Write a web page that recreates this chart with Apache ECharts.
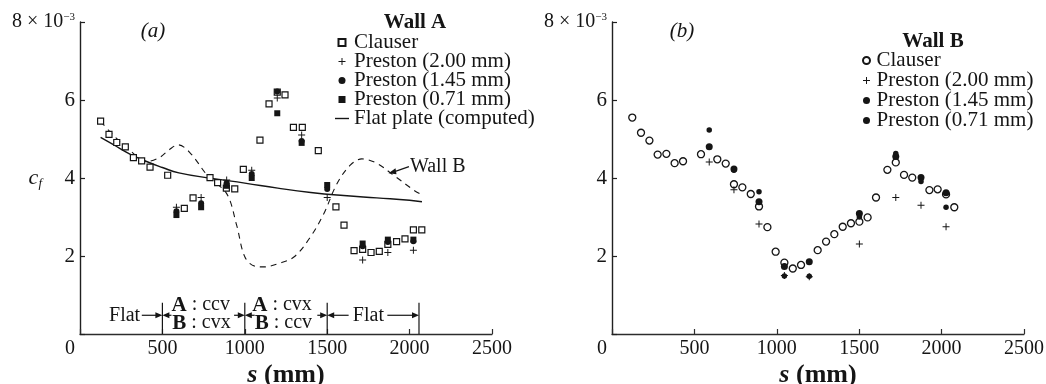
<!DOCTYPE html>
<html>
<head>
<meta charset="utf-8">
<script src="https://cdn.jsdelivr.net/npm/echarts@6/dist/echarts.min.js"></script>
<style>
  html, body { margin: 0; padding: 0; background: #ffffff; }
  #chart { width: 1046px; height: 384px; }
</style>
</head>
<body>
<div id="chart"></div>
<script>
// ---------- Wall A (panel a): skin friction c_f (x 10^-3) against s (mm) ----------
const aClauserS  = [125, 176, 223, 275, 324, 374, 425, 532, 633, 686, 789, 835, 888, 939, 991, 1092, 1147, 1197, 1244, 1295, 1349, 1446, 1553, 1602, 1663, 1715, 1766, 1816, 1868, 1921, 1972, 2023, 2074];
const aClauserCf = [5.46, 5.12, 4.91, 4.80, 4.52, 4.44, 4.28, 4.07, 3.22, 3.49, 4.01, 3.88, 3.74, 3.72, 4.22, 4.97, 5.90, 6.20, 6.13, 5.30, 5.30, 4.70, 3.26, 2.79, 2.14, 2.17, 2.09, 2.12, 2.30, 2.37, 2.44, 2.67, 2.67];

const aPrestonS    = [585, 735, 890, 1042, 1197, 1345, 1500, 1715, 1868, 2023];
const aPreston200  = [3.25, 3.50, 3.95, 4.20, 6.05, 5.10, 3.50, 1.90, 2.09, 2.15];
const aPreston145  = [3.15, 3.35, 3.87, 4.10, 6.22, 4.95, 3.72, 2.25, 2.36, 2.38];
const aPreston071  = [3.05, 3.25, 3.80, 4.00, 5.66, 4.90, 3.82, 2.32, 2.42, 2.42];

// computed flat-plate distribution
const aFlatS  = [125, 200, 300, 400, 500, 600, 800, 1000, 1200, 1400, 1600, 1800, 2000, 2075];
const aFlatCf = [5.04, 4.86, 4.62, 4.43, 4.27, 4.13, 3.99, 3.87, 3.74, 3.63, 3.55, 3.49, 3.43, 3.39];

// Wall B distribution, overlaid for comparison
const aWallBS  = [125, 220, 310, 400, 480, 540, 595, 665, 780, 890, 950, 1000, 1060, 1120, 1200, 1300, 1400, 1480, 1560, 1640, 1710, 1800, 1900, 2025, 2060];
const aWallBCf = [5.45, 5.02, 4.68, 4.42, 4.52, 4.72, 4.85, 4.66, 4.03, 3.60, 2.80, 1.98, 1.74, 1.72, 1.80, 1.98, 2.50, 3.09, 3.86, 4.33, 4.49, 4.38, 4.08, 3.69, 3.60];

// wall curvature segments (mm)
const segmentBounds = [500, 1000, 1500, 2057];

// ---------- Wall B (panel b) ----------
const bClauserS  = [123, 176, 227, 277, 330, 380, 431, 540, 639, 690, 740, 791, 842, 892, 943, 993, 1046, 1097, 1147, 1248, 1299, 1349, 1400, 1450, 1501, 1551, 1602, 1671, 1722, 1772, 1822, 1926, 1976, 2027, 2077];
const bClauserCf = [5.55, 5.16, 4.96, 4.60, 4.62, 4.38, 4.43, 4.61, 4.48, 4.37, 3.84, 3.76, 3.59, 3.27, 2.74, 2.11, 1.83, 1.68, 1.77, 2.15, 2.37, 2.56, 2.75, 2.84, 2.88, 2.99, 3.50, 4.21, 4.40, 4.08, 4.01, 3.69, 3.71, 3.58, 3.25];

const bPrestonS   = [590, 740, 892, 1046, 1197, 1501, 1722, 1875, 2027];
const bPreston200 = [4.41, 3.70, 2.82, 1.50, 1.47, 2.31, 3.50, 3.30, 2.75];
const bPreston145 = [4.80, 4.23, 3.39, 1.73, 1.85, 3.09, 4.55, 4.01, 3.62];
const bPreston071 = [5.23, 4.20, 3.65, 1.49, 1.48, 3.00, 4.63, 3.91, 3.25];

// ---------- axis ticks ----------
const sTicks  = [0, 500, 1000, 1500, 2000, 2500];
const cfTicks = [0, 2, 4, 6, 8];

const INK = '#151515';
const SERIF = '"Liberation Serif", "DejaVu Serif", serif';
const PLUS = 'path://M0,4.3H10V5.7H0Z M4.3,0H5.7V10H4.3Z';
const SQUARE = 'path://M0,0H10V10H0Z';
const DISC = 'path://M5,0A5,5,0,1,1,5,10A5,5,0,1,1,5,0Z';
const DASH = 'path://M0,0H20V2H0Z';

const pairs = (xs, ys) => xs.map((x, i) => [x, ys[i]]);

function xAxisFor(gridIndex) {
  return {
    gridIndex, type: 'value',
    min: sTicks[0], max: sTicks[sTicks.length - 1], interval: sTicks[1] - sTicks[0],
    axisLine: { lineStyle: { color: '#2c2c2c', width: 1.3 } },
    axisTick: { inside: true, length: 5, lineStyle: { color: '#2c2c2c', width: 1.2 } },
    splitLine: { show: false },
    axisLabel: {
      color: INK, fontFamily: SERIF, fontSize: 20, margin: 5,
      formatter: v => (v === 0 ? '{z|0}' : String(v)),
      rich: { z: { fontFamily: SERIF, fontSize: 20, color: INK, padding: [0, 20, 0, 0] } }
    },
    name: '{s|s}{mm| (mm)}', nameLocation: 'middle', nameGap: 28, nameMoveOverlap: false,
    nameTextStyle: {
      rich: {
        s:  { fontFamily: SERIF, fontSize: 26, fontStyle: 'italic', fontWeight: 'bold', color: INK },
        mm: { fontFamily: SERIF, fontSize: 26, fontWeight: 'bold', color: INK }
      }
    }
  };
}

function yAxisFor(gridIndex, withName) {
  const ax = {
    gridIndex, type: 'value',
    min: cfTicks[0], max: cfTicks[cfTicks.length - 1], interval: cfTicks[1] - cfTicks[0],
    axisLine: { lineStyle: { color: '#202020', width: 1.4 } },
    axisTick: { inside: true, length: 5, lineStyle: { color: '#202020', width: 1.2 } },
    splitLine: { show: false },
    axisLabel: {
      color: INK, fontFamily: SERIF, fontSize: 21, margin: 5,
      formatter: v => (v === 0 ? '' : v === 8 ? '{m|8 × 10}{e|−3}' : String(v)),
      rich: {
        m: { fontFamily: SERIF, fontSize: 20, color: INK },
        e: { fontFamily: SERIF, fontSize: 11, color: INK, verticalAlign: 'top' }
      }
    }
  };
  if (withName) {
    Object.assign(ax, {
      name: '{c|c}{f|f}', nameLocation: 'middle', nameGap: 38, nameRotate: 0, nameMoveOverlap: false,
      nameTextStyle: {
        rich: {
          c: { fontFamily: SERIF, fontSize: 22, fontStyle: 'italic', color: INK, lineHeight: 24 },
          f: { fontFamily: SERIF, fontSize: 13, fontStyle: 'italic', color: INK, verticalAlign: 'bottom', lineHeight: 13 }
        }
      }
    });
  }
  return ax;
}

const legendText = { fontFamily: SERIF, fontSize: 21, color: INK };

const chart = echarts.init(document.getElementById('chart'), null, { renderer: 'canvas' });

chart.setOption({
  animation: false,
  backgroundColor: '#ffffff',
  grid: [
    { left: 80, top: 22, width: 412, height: 312, outerBoundsMode: 'none', containLabel: false },
    { left: 612, top: 22, width: 412, height: 312, outerBoundsMode: 'none', containLabel: false }
  ],
  xAxis: [xAxisFor(0), xAxisFor(1)],
  yAxis: [yAxisFor(0, true), yAxisFor(1, false)],
  title: [
    { text: '(a)', left: 153, top: 21, padding: 0, textAlign: 'center',
      textStyle: { fontFamily: SERIF, fontSize: 21, fontStyle: 'italic', fontWeight: 'normal', color: INK } },
    { text: '(b)', left: 682, top: 21, padding: 0, textAlign: 'center',
      textStyle: { fontFamily: SERIF, fontSize: 21, fontStyle: 'italic', fontWeight: 'normal', color: INK } },
    { text: 'Wall A', left: 415, top: 12, padding: 0, textAlign: 'center',
      textStyle: { fontFamily: SERIF, fontSize: 21, fontWeight: 'bold', color: INK } },
    { text: 'Wall B', left: 933, top: 31, padding: 0, textAlign: 'center',
      textStyle: { fontFamily: SERIF, fontSize: 21, fontWeight: 'bold', color: INK } }
  ],
  legend: [
    {
      orient: 'vertical', left: 335, top: 32, padding: 0, itemGap: -2,
      itemWidth: 14, itemHeight: 7, selectedMode: false,
      formatter: n => n.slice(2),
      textStyle: legendText,
      data: [
        { name: 'a:Clauser', icon: SQUARE },
        { name: 'a:Preston (2.00 mm)', icon: PLUS },
        { name: 'a:Preston (1.45 mm)', icon: DISC },
        { name: 'a:Preston (0.71 mm)', icon: SQUARE },
        { name: 'a:Flat plate (computed)', icon: DASH }
      ]
    },
    {
      orient: 'vertical', left: 862, top: 50, padding: 0, itemGap: -1,
      itemWidth: 10, itemHeight: 7, selectedMode: false,
      formatter: n => n.slice(2),
      textStyle: legendText,
      data: [
        { name: 'b:Clauser', icon: DISC },
        { name: 'b:Preston (2.00 mm)', icon: PLUS },
        { name: 'b:Preston (1.45 mm)', icon: DISC },
        { name: 'b:Preston (0.71 mm)', icon: DISC }
      ]
    }
  ],
  series: [
    // panel a
    { name: 'a:Flat plate (computed)', type: 'line', xAxisIndex: 0, yAxisIndex: 0,
      data: pairs(aFlatS, aFlatCf), smooth: true, symbol: 'none', silent: true,
      lineStyle: { color: INK, width: 1.4 }, itemStyle: { color: INK }, z: 2 },
    { name: 'Wall B', type: 'line', xAxisIndex: 0, yAxisIndex: 0,
      data: pairs(aWallBS, aWallBCf), smooth: 0.35, symbol: 'none', silent: true,
      lineStyle: { color: INK, width: 1.1, type: [6, 5] }, z: 2 },
    { name: 'a:Clauser', type: 'scatter', xAxisIndex: 0, yAxisIndex: 0,
      data: pairs(aClauserS, aClauserCf), symbol: 'rect', symbolSize: 6,
      itemStyle: { color: '#ffffff', borderColor: INK, borderWidth: 1.2, opacity: 1 }, z: 3 },
    { name: 'a:Preston (2.00 mm)', type: 'scatter', xAxisIndex: 0, yAxisIndex: 0,
      data: pairs(aPrestonS, aPreston200), symbol: PLUS, symbolSize: 7,
      itemStyle: { color: INK, opacity: 1 }, z: 4 },
    { name: 'a:Preston (1.45 mm)', type: 'scatter', xAxisIndex: 0, yAxisIndex: 0,
      data: pairs(aPrestonS, aPreston145), symbol: 'circle', symbolSize: 6,
      itemStyle: { color: INK, opacity: 1 }, z: 4 },
    { name: 'a:Preston (0.71 mm)', type: 'scatter', xAxisIndex: 0, yAxisIndex: 0,
      data: pairs(aPrestonS, aPreston071), symbol: 'rect', symbolSize: 6,
      itemStyle: { color: INK, opacity: 1 }, z: 4 },
    // panel b
    { name: 'b:Clauser', type: 'scatter', xAxisIndex: 1, yAxisIndex: 1,
      data: pairs(bClauserS, bClauserCf), symbol: 'circle', symbolSize: 7,
      itemStyle: { color: '#ffffff', borderColor: INK, borderWidth: 1.3, opacity: 1 }, z: 3 },
    { name: 'b:Preston (2.00 mm)', type: 'scatter', xAxisIndex: 1, yAxisIndex: 1,
      data: pairs(bPrestonS, bPreston200), symbol: PLUS, symbolSize: 7,
      itemStyle: { color: INK, opacity: 1 }, z: 4 },
    { name: 'b:Preston (1.45 mm)', type: 'scatter', xAxisIndex: 1, yAxisIndex: 1,
      data: pairs(bPrestonS, bPreston145), symbol: 'circle', symbolSize: 7,
      itemStyle: { color: INK, opacity: 1 }, z: 4 },
    { name: 'b:Preston (0.71 mm)', type: 'scatter', xAxisIndex: 1, yAxisIndex: 1,
      data: pairs(bPrestonS, bPreston071), symbol: 'circle', symbolSize: 5.5,
      itemStyle: { color: INK, opacity: 1 }, z: 4 }
  ]
});

// ---------- annotations in panel a, placed through the panel's own scales ----------
const P = (s, cf) => chart.convertToPixel({ gridIndex: 0 }, [s, cf]);
const graphics = [];
const stroke = { stroke: INK, lineWidth: 1.2 };

function arrow(fromS, toS, cf) {
  const a = P(fromS, cf), b = P(toS, cf);
  const dir = b[0] > a[0] ? 1 : -1;
  graphics.push({ type: 'line', shape: { x1: a[0], y1: a[1], x2: b[0] - dir * 3, y2: b[1] }, style: stroke, z: 10 });
  graphics.push({ type: 'polygon', shape: { points: [[b[0], b[1]], [b[0] - dir * 7, b[1] - 3], [b[0] - dir * 7, b[1] + 3]] },
                  style: { fill: INK }, z: 10 });
}
function label(text, s, cf, align) {
  const p = P(s, cf);
  graphics.push({ type: 'text', x: p[0], y: p[1], z: 10,
    style: { text, fill: INK, font: '20px ' + SERIF, align: align || 'left', verticalAlign: 'middle',
             rich: { b: { fontFamily: SERIF, fontSize: 21, fontWeight: 'bold', fill: INK, color: INK } } } });
}

segmentBounds.forEach(s => {
  const a = P(s, 0), b = P(s, 0.8);
  graphics.push({ type: 'line', shape: { x1: a[0], y1: a[1], x2: b[0], y2: b[1] }, style: stroke, z: 10 });
});

arrow(375, 500, 0.48);
arrow(555, 500, 0.48);
arrow(935, 1000, 0.48);
arrow(1060, 1000, 0.48);
arrow(1440, 1500, 0.48);
arrow(1630, 1500, 0.48);
arrow(1865, 2057, 0.48);

label('Flat', 365, 0.48, 'right');
label('{b|A} : ccv', 555, 0.74);
label('{b|B} : cvx', 560, 0.28);
label('{b|A} : cvx', 1045, 0.74);
label('{b|B} : ccv', 1060, 0.28);
label('Flat', 1750, 0.48, 'center');

// "Wall B" pointer to the dashed curve
{
  const t = P(2002, 4.29), h = P(1872, 4.12);
  graphics.push({ type: 'line', shape: { x1: t[0] - 1, y1: t[1], x2: h[0] + 4, y2: h[1] - 1 }, style: stroke, z: 10 });
  graphics.push({ type: 'polygon', z: 10,
    shape: { points: [[h[0], h[1]], [h[0] + 7, h[1] - 5], [h[0] + 8, h[1] + 1]] }, style: { fill: INK } });
  label('Wall B', 2002, 4.29);
}

chart.setOption({ graphic: graphics });
</script>
</body>
</html>
